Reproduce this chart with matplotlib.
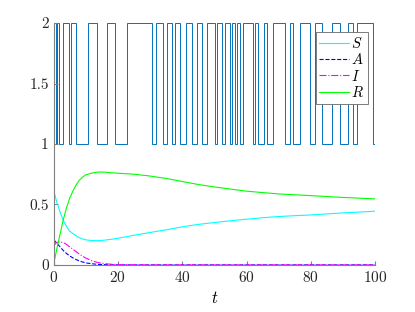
import matplotlib
matplotlib.use('Agg')
import matplotlib.pyplot as plt

plt.rcParams['font.family'] = 'cmr10'
plt.rcParams['mathtext.fontset'] = 'cm'
plt.rcParams['axes.formatter.use_mathtext'] = True

# switching signal: intervals where the mode is 2 (otherwise 1)
high_start = [0.2, 1.1, 2.9, 5.4, 10.7, 16.6, 22.8, 31.8, 35.2, 37.7, 41.1, 44.6,
              47.7, 50.8, 53.3, 55.4, 57.0, 58.9, 62.6, 65.5, 68.2, 73.5, 76.6,
              81.2, 86.5, 91.5, 94.3]
high_end = [0.8, 1.7, 4.8, 7.0, 13.5, 19.1, 30.6, 34.0, 36.8, 39.3, 43.0, 46.1,
            50.2, 52.3, 54.8, 56.4, 57.9, 62.0, 63.5, 66.4, 71.9, 74.6, 79.7,
            83.4, 89.0, 93.0, 99.2]

t = [0, 1, 2, 3, 4, 5, 6, 7, 8, 9, 10, 12, 14, 16, 18, 20, 25, 30, 35, 40, 45,
     50, 55, 60, 65, 70, 75, 80, 85, 90, 95, 100]
S = [0.62, 0.52, 0.44, 0.37, 0.32, 0.28, 0.26, 0.24, 0.225, 0.215, 0.207, 0.201,
     0.200, 0.205, 0.212, 0.22, 0.245, 0.268, 0.29, 0.315, 0.335, 0.35, 0.365,
     0.378, 0.39, 0.40, 0.407, 0.413, 0.422, 0.43, 0.437, 0.444]
A = [0.21, 0.18, 0.15, 0.12, 0.095, 0.075, 0.058, 0.044, 0.033, 0.024, 0.017,
     0.009, 0.004, 0.002, 0.001, 0.0005, 0, 0, 0, 0, 0, 0, 0, 0, 0, 0, 0, 0, 0,
     0, 0, 0]
I = [0.16, 0.185, 0.19, 0.185, 0.17, 0.15, 0.13, 0.11, 0.09, 0.072, 0.057, 0.033,
     0.018, 0.01, 0.005, 0.003, 0.001, 0, 0, 0, 0, 0, 0, 0, 0, 0, 0, 0, 0, 0, 0, 0]
R = [0, 0.13, 0.25, 0.37, 0.47, 0.55, 0.61, 0.66, 0.70, 0.725, 0.745, 0.76, 0.768,
     0.767, 0.762, 0.758, 0.75, 0.735, 0.715, 0.69, 0.665, 0.645, 0.627, 0.61,
     0.598, 0.587, 0.58, 0.573, 0.565, 0.558, 0.552, 0.546]

edges = [0]
modes = []
for a, b in zip(high_start, high_end):
    edges += [a, b]
    modes += [1, 2]
edges.append(100)
modes.append(1)

fig = plt.figure(figsize=(4.15, 3.12), dpi=100)
ax = fig.add_axes([0.129, 0.151, 0.775, 0.775])

ax.stairs(modes, edges, color='#0072BD', lw=0.7, baseline=None)
ax.plot(t, S, color='cyan', lw=0.8, label='$S$')
ax.plot(t, A, color='blue', lw=0.8, ls='--', label='$A$')
ax.plot(t, I, color='magenta', lw=0.8, ls='-.', label='$I$')
ax.plot(t, R, color='lime', lw=0.8, label='$R$')

ax.set_xlim(0, 100)
ax.set_ylim(0, 2)
ax.set_xticks([0, 20, 40, 60, 80, 100])
ax.set_yticks([0, 0.5, 1, 1.5, 2])
ax.set_yticklabels(['0', '0.5', '1', '1.5', '2'])
ax.set_xlabel('$t$', fontsize=12, labelpad=4)

for s in ['top', 'right']:
    ax.spines[s].set_visible(False)
for s in ['left', 'bottom']:
    ax.spines[s].set_color('#808080')
ax.tick_params(direction='in', length=3, color='#808080', labelsize=11,
               labelcolor='#262626')

leg = ax.legend(loc='upper right', bbox_to_anchor=(0.978, 0.963), fontsize=10.5,
                fancybox=False, framealpha=1, edgecolor='#666666',
                handlelength=2.0, handletextpad=0.2, borderpad=0.25,
                labelspacing=0.1, borderaxespad=0)
leg.get_frame().set_linewidth(0.6)

fig.savefig('out.png', dpi=100)
